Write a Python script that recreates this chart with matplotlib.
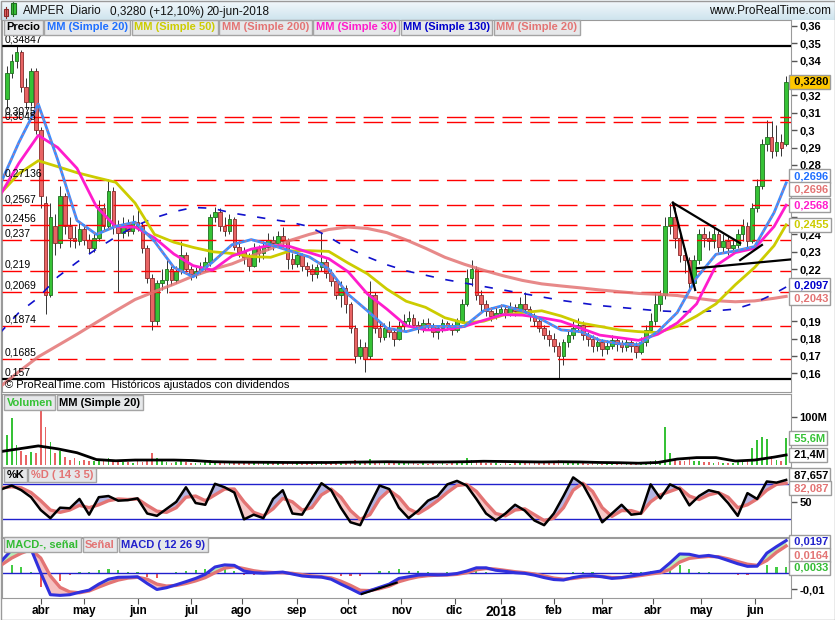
import matplotlib
matplotlib.use('Agg')
import matplotlib.pyplot as plt
import matplotlib.transforms as mtransforms
from matplotlib.patches import Rectangle
import numpy as np
import pandas as pd

plt.rcParams['font.family'] = ['Liberation Sans', 'DejaVu Sans']

# calendario bursatil (Bolsa de Madrid)
holidays = ['2017-04-14', '2017-04-17', '2017-05-01', '2017-12-25', '2017-12-26',
            '2018-01-01', '2018-03-30', '2018-04-02', '2018-05-01']
days = pd.bdate_range('2017-03-13', '2018-06-20', freq='C', holidays=holidays)
month_names = ['abr', 'may', 'jun', 'jul', 'ago', 'sep', 'oct', 'nov', 'dic',
               '2018', 'feb', 'mar', 'abr', 'may', 'jun']

# velas (una cada dos sesiones)
opens = [0.318, 0.333, 0.340, 0.345, 0.325, 0.316, 0.334, 0.300, 0.258, 0.205,
         0.245, 0.235, 0.262, 0.245, 0.238, 0.236, 0.243, 0.237, 0.232, 0.238,
         0.255, 0.245, 0.265, 0.245, 0.241, 0.246, 0.242, 0.247, 0.245, 0.232,
         0.215, 0.190, 0.212, 0.214, 0.220, 0.214, 0.219, 0.228, 0.220, 0.217,
         0.219, 0.221, 0.224, 0.250, 0.253, 0.245, 0.242, 0.249, 0.233, 0.230,
         0.227, 0.222, 0.232, 0.229, 0.233, 0.237, 0.235, 0.239, 0.236, 0.226,
         0.223, 0.228, 0.222, 0.220, 0.217, 0.221, 0.224, 0.218, 0.213, 0.205,
         0.209, 0.200, 0.186, 0.170, 0.175, 0.170, 0.205, 0.186, 0.181, 0.186,
         0.184, 0.180, 0.187, 0.190, 0.192, 0.188, 0.186, 0.189, 0.187, 0.184,
         0.186, 0.189, 0.187, 0.185, 0.190, 0.200, 0.215, 0.220, 0.205, 0.200,
         0.196, 0.193, 0.195, 0.197, 0.195, 0.198, 0.196, 0.200, 0.197, 0.193,
         0.190, 0.186, 0.182, 0.180, 0.176, 0.170, 0.178, 0.182, 0.186, 0.188,
         0.182, 0.180, 0.176, 0.178, 0.174, 0.176, 0.179, 0.177, 0.175, 0.178,
         0.176, 0.172, 0.178, 0.185, 0.190, 0.200, 0.205, 0.245, 0.250, 0.238,
         0.228, 0.225, 0.212, 0.225, 0.240, 0.238, 0.236, 0.240, 0.233, 0.236,
         0.232, 0.234, 0.240, 0.245, 0.236, 0.255, 0.268, 0.292, 0.296, 0.288,
         0.293, 0.292]
highs = [0.337, 0.344, 0.3485, 0.346, 0.330, 0.336, 0.336, 0.302, 0.262, 0.258,
         0.252, 0.268, 0.264, 0.250, 0.245, 0.247, 0.246, 0.240, 0.241, 0.260,
         0.258, 0.272, 0.267, 0.248, 0.250, 0.249, 0.251, 0.254, 0.247, 0.234,
         0.217, 0.214, 0.220, 0.225, 0.222, 0.222, 0.236, 0.230, 0.222, 0.221,
         0.224, 0.227, 0.252, 0.256, 0.255, 0.250, 0.252, 0.250, 0.236, 0.233,
         0.229, 0.235, 0.234, 0.236, 0.241, 0.239, 0.242, 0.244, 0.238, 0.229,
         0.230, 0.229, 0.224, 0.223, 0.223, 0.2415, 0.226, 0.220, 0.215, 0.213,
         0.211, 0.201, 0.188, 0.180, 0.178, 0.213, 0.207, 0.189, 0.189, 0.190,
         0.186, 0.190, 0.194, 0.196, 0.194, 0.190, 0.191, 0.192, 0.189, 0.188,
         0.191, 0.190, 0.189, 0.192, 0.203, 0.220, 0.2255, 0.222, 0.208, 0.202,
         0.198, 0.198, 0.200, 0.199, 0.201, 0.200, 0.204, 0.207, 0.199, 0.195,
         0.192, 0.188, 0.185, 0.183, 0.178, 0.180, 0.185, 0.190, 0.192, 0.190,
         0.184, 0.182, 0.181, 0.180, 0.179, 0.182, 0.181, 0.179, 0.180, 0.180,
         0.178, 0.181, 0.188, 0.195, 0.207, 0.208, 0.250, 0.258, 0.256, 0.242,
         0.232, 0.227, 0.228, 0.243, 0.244, 0.242, 0.244, 0.242, 0.240, 0.239,
         0.237, 0.243, 0.249, 0.247, 0.258, 0.272, 0.295, 0.306, 0.305, 0.303,
         0.298, 0.331]
lows = [0.312, 0.330, 0.336, 0.322, 0.312, 0.314, 0.298, 0.255, 0.194, 0.204,
        0.228, 0.232, 0.240, 0.233, 0.232, 0.234, 0.234, 0.229, 0.230, 0.236,
        0.242, 0.243, 0.240, 0.207, 0.238, 0.239, 0.240, 0.242, 0.229, 0.212,
        0.185, 0.188, 0.208, 0.206, 0.211, 0.212, 0.217, 0.217, 0.214, 0.215,
        0.217, 0.219, 0.222, 0.247, 0.242, 0.239, 0.240, 0.231, 0.227, 0.223,
        0.219, 0.221, 0.224, 0.226, 0.231, 0.231, 0.233, 0.233, 0.220, 0.220,
        0.221, 0.219, 0.216, 0.213, 0.215, 0.219, 0.215, 0.210, 0.203, 0.198,
        0.195, 0.183, 0.166, 0.168, 0.161, 0.168, 0.183, 0.178, 0.179, 0.181,
        0.176, 0.179, 0.185, 0.188, 0.186, 0.183, 0.184, 0.185, 0.181, 0.180,
        0.184, 0.185, 0.182, 0.184, 0.189, 0.199, 0.210, 0.202, 0.196, 0.193,
        0.190, 0.191, 0.193, 0.192, 0.193, 0.193, 0.194, 0.195, 0.190, 0.187,
        0.184, 0.180, 0.176, 0.172, 0.157, 0.165, 0.175, 0.180, 0.184, 0.179,
        0.176, 0.172, 0.173, 0.170, 0.171, 0.174, 0.173, 0.172, 0.173, 0.172,
        0.169, 0.171, 0.176, 0.184, 0.188, 0.196, 0.203, 0.240, 0.232, 0.224,
        0.218, 0.208, 0.210, 0.223, 0.233, 0.231, 0.232, 0.230, 0.230, 0.228,
        0.229, 0.232, 0.236, 0.233, 0.235, 0.253, 0.266, 0.288, 0.284, 0.285,
        0.285, 0.291]
closes = [0.333, 0.340, 0.345, 0.325, 0.316, 0.334, 0.300, 0.262, 0.205, 0.250,
          0.235, 0.262, 0.245, 0.238, 0.236, 0.243, 0.237, 0.232, 0.238, 0.255,
          0.245, 0.265, 0.245, 0.241, 0.246, 0.242, 0.247, 0.245, 0.232, 0.215,
          0.190, 0.212, 0.214, 0.220, 0.214, 0.219, 0.228, 0.220, 0.217, 0.219,
          0.221, 0.224, 0.250, 0.253, 0.245, 0.242, 0.249, 0.233, 0.230, 0.227,
          0.222, 0.232, 0.229, 0.233, 0.237, 0.235, 0.239, 0.236, 0.226, 0.223,
          0.228, 0.222, 0.220, 0.217, 0.221, 0.224, 0.218, 0.213, 0.205, 0.209,
          0.200, 0.186, 0.170, 0.175, 0.168, 0.205, 0.186, 0.181, 0.186, 0.184,
          0.180, 0.187, 0.190, 0.192, 0.188, 0.186, 0.189, 0.187, 0.184, 0.186,
          0.189, 0.187, 0.185, 0.190, 0.200, 0.215, 0.220, 0.205, 0.200, 0.196,
          0.193, 0.195, 0.197, 0.195, 0.198, 0.196, 0.200, 0.197, 0.193, 0.190,
          0.186, 0.182, 0.180, 0.176, 0.170, 0.178, 0.182, 0.186, 0.188, 0.182,
          0.180, 0.176, 0.178, 0.174, 0.176, 0.179, 0.177, 0.175, 0.178, 0.176,
          0.172, 0.178, 0.185, 0.190, 0.200, 0.205, 0.245, 0.250, 0.238, 0.228,
          0.225, 0.212, 0.225, 0.240, 0.238, 0.236, 0.240, 0.233, 0.236, 0.232,
          0.234, 0.240, 0.245, 0.236, 0.255, 0.268, 0.292, 0.296, 0.288, 0.293,
          0.290, 0.328]
volume = [62, 97, 42, 30, 22, 28, 25, 114, 79, 49,
          25, 30, 18, 12, 15, 10, 12, 8, 10, 14,
          9, 16, 11, 8, 6, 7, 5, 8, 7, 12,
          25, 16, 9, 7, 5, 6, 10, 6, 4, 5,
          5, 6, 12, 9, 7, 5, 6, 8, 5, 4,
          5, 6, 4, 5, 6, 4, 5, 6, 7, 4,
          4, 5, 4, 5, 4, 8, 5, 5, 7, 6,
          8, 9, 12, 7, 9, 14, 7, 5, 4, 4,
          5, 6, 4, 5, 4, 3, 4, 3, 4, 3,
          4, 3, 4, 5, 8, 15, 12, 9, 6, 5,
          4, 4, 3, 4, 3, 4, 5, 6, 4, 5,
          4, 5, 6, 7, 12, 8, 6, 5, 4, 4,
          3, 4, 3, 3, 4, 3, 3, 4, 3, 3,
          4, 5, 7, 8, 12, 10, 79, 25, 12, 10,
          8, 15, 10, 9, 6, 7, 5, 6, 5, 4,
          5, 6, 10, 8, 36, 52, 59, 55, 20, 12,
          10, 55.6]

# medias moviles (una lectura cada ocho sesiones y la ultima sesion)
ma20 = [0.268, 0.293, 0.315, 0.283, 0.248, 0.240, 0.2446, 0.247, 0.236, 0.221,
        0.2156, 0.224, 0.234, 0.237, 0.234, 0.2305, 0.227, 0.220, 0.2055, 0.196,
        0.186, 0.184, 0.187, 0.187, 0.187, 0.196, 0.199, 0.196, 0.191, 0.185,
        0.184, 0.179, 0.177, 0.1765, 0.184, 0.195, 0.215, 0.2285, 0.2305, 0.233,
        0.2525, 0.2696]
ma30 = [0.262, 0.281, 0.297, 0.290, 0.278, 0.256, 0.2444, 0.2442, 0.238, 0.2287,
        0.222, 0.2194, 0.2275, 0.2315, 0.2337, 0.233, 0.2295, 0.226, 0.2185, 0.2057,
        0.197, 0.1875, 0.185, 0.185, 0.187, 0.1905, 0.1938, 0.1935, 0.192, 0.190,
        0.186, 0.182, 0.1805, 0.179, 0.1825, 0.189, 0.200, 0.222, 0.2295, 0.232,
        0.2445, 0.2568]
ma50 = [0.263, 0.275, 0.2824, 0.279, 0.2755, 0.2727, 0.270, 0.258, 0.240, 0.2355,
        0.2325, 0.230, 0.229, 0.2272, 0.2268, 0.2305, 0.2306, 0.2302, 0.2235, 0.2173,
        0.2085, 0.2015, 0.198, 0.192, 0.189, 0.190, 0.1935, 0.195, 0.196, 0.193,
        0.189, 0.187, 0.185, 0.184, 0.1835, 0.187, 0.193, 0.200, 0.211, 0.221,
        0.2335, 0.2455]
ma130 = [0.183, 0.195, 0.2035, 0.2155, 0.224, 0.2315, 0.2385, 0.2448, 0.2495, 0.253,
         0.2555, 0.255, 0.2523, 0.2505, 0.2487, 0.247, 0.2445, 0.2385, 0.232, 0.227,
         0.2225, 0.219, 0.2165, 0.214, 0.212, 0.210, 0.208, 0.206, 0.204, 0.202,
         0.2005, 0.199, 0.198, 0.197, 0.196, 0.1955, 0.1955, 0.196, 0.197, 0.2005,
         0.2058, 0.2097]
ma200 = [0.152, 0.161, 0.1695, 0.176, 0.1825, 0.1893, 0.196, 0.2025, 0.207, 0.2113,
         0.216, 0.2198, 0.223, 0.2275, 0.2318, 0.2365, 0.240, 0.2428, 0.2442, 0.2434,
         0.241, 0.2368, 0.232, 0.2268, 0.2228, 0.2193, 0.2162, 0.2135, 0.2115, 0.2103,
         0.2092, 0.208, 0.207, 0.206, 0.2055, 0.2048, 0.2032, 0.2018, 0.2012, 0.2017,
         0.2032, 0.2043]
vol_ma = [28, 34, 40, 34, 26, 12, 9.5, 11, 11, 11,
          10, 7.6, 6.8, 6.5, 6.3, 6, 6, 6, 6.5, 7,
          7.5, 7, 7, 7, 7.5, 8.5, 8, 7.5, 7, 7.5,
          7, 6, 5.5, 4.5, 6, 13, 16, 16, 9, 11,
          17, 21.4]

# osciladores (una lectura cada cuatro sesiones)
stoch_k = [72, 78, 70, 58, 36, 22, 40, 39, 55, 28, 58, 60, 52, 53, 56, 30, 26, 38, 50, 75,
           48, 45, 81, 75, 66, 20, 28, 22, 55, 70, 30, 28, 55, 82, 70, 40, 15, 10, 45, 78,
           72, 40, 22, 35, 52, 60, 80, 86, 78, 55, 30, 18, 30, 45, 35, 18, 10, 30, 60, 92,
           80, 50, 15, 30, 45, 28, 30, 80, 56, 80, 72, 44, 60, 70, 66, 48, 26, 65, 55, 85,
           83, 87.657]
stoch_d = [74, 76, 74, 66, 52, 36, 32, 36, 44, 40, 45, 52, 55, 54, 55, 44, 34, 32, 40, 58,
           60, 52, 62, 72, 72, 50, 32, 26, 38, 56, 50, 36, 40, 62, 72, 58, 35, 20, 28, 55,
           70, 58, 38, 30, 40, 52, 66, 78, 80, 68, 48, 30, 26, 36, 38, 28, 18, 22, 40, 70,
           82, 68, 40, 25, 35, 35, 30, 50, 62, 68, 74, 60, 54, 62, 66, 58, 40, 45, 55, 70,
           80, 82.087]
macd = [0.0075, 0.014, 0.0158, 0.0145, 0.0, -0.0135, -0.0139, -0.0135, -0.012, -0.0107,
        -0.007, -0.004, -0.0028, -0.0027, -0.0025, -0.0066, -0.0103, -0.0092, -0.0074, -0.0055,
        -0.0035, -0.001, 0.0035, 0.0048, 0.0045, 0.001, 0.0, -0.0003, 0.0, 0.0004,
        -0.0008, -0.002, -0.0025, -0.0027, -0.004, -0.007, -0.0098, -0.0128, -0.011, -0.009,
        -0.007, -0.0035, -0.0025, -0.0015, -0.0012, -0.0014, -0.0012, -0.0005, 0.001, 0.003,
        0.003, 0.0015, 0.0008, 0.0, -0.0004, -0.0015, -0.003, -0.0042, -0.0045, -0.003,
        -0.002, -0.0018, -0.0025, -0.0035, -0.003, -0.002, -0.001, 0.0, 0.001, 0.006,
        0.0115, 0.0113, 0.010, 0.0106, 0.0095, 0.0075, 0.0055, 0.0039, 0.0040, 0.012,
        0.016, 0.0197]
signal = [0.005, 0.009, 0.012, 0.0142, 0.009, -0.002, -0.009, -0.0118, -0.0123, -0.0112,
          -0.0088, -0.0065, -0.0045, -0.0033, -0.0028, -0.004, -0.007, -0.0082, -0.0078, -0.0066,
          -0.005, -0.003, 0.0, 0.0028, 0.0037, 0.0025, 0.0012, 0.0004, 0.0001, 0.0,
          -0.0004, -0.0012, -0.002, -0.0025, -0.0032, -0.0052, -0.0078, -0.0108, -0.011, -0.0098,
          -0.0082, -0.0055, -0.0038, -0.0025, -0.0018, -0.0015, -0.0014, -0.001, 0.0, 0.0018,
          0.0026, 0.0022, 0.0014, 0.0006, 0.0, -0.0008, -0.002, -0.0033, -0.0040, -0.0035,
          -0.0027, -0.0022, -0.0023, -0.003, -0.003, -0.0025, -0.0017, -0.0008, 0.0, 0.002,
          0.0065, 0.0088, 0.0095, 0.0100, 0.0098, 0.0085, 0.0068, 0.0052, 0.0045, 0.0075,
          0.0125, 0.0164]

# niveles y lineas de tendencia
red_levels = [0.3075, 0.3045, 0.27136, 0.2567, 0.2456, 0.237, 0.219, 0.2069, 0.1874, 0.1685]
black_levels = [0.34847, 0.157]
trend_x = [(276.2, 304.0), (276.2, 285.4), (286.1, 326.7), (304.0, 313.0)]
trend_y = [(0.2582, 0.2349), (0.2582, 0.2080), (0.2205, 0.2258), (0.2252, 0.2339)]
macd_trend_x = (147.6, 162.1)
macd_trend_y = (-0.0131, -0.0061)

# colores
GREEN = '#36c236'
RED = '#e86464'
SALMON = '#e37474'
BLUE20 = '#3b8cff'
YELLOW = '#cccc00'
MAGENTA = '#ff1ccc'
DBLUE = '#1010cc'
FRAME = '#9a9a9a'

W, H = 835, 620
fig = plt.figure(figsize=(W / 100, H / 100), dpi=100)
renderer = fig.canvas.get_renderer()


def panel(top, bottom, left=1.5, right=791):
    ax = fig.add_axes([left / W, 1 - bottom / H, (right - left) / W, (bottom - top) / H])
    for s in ax.spines.values():
        s.set_color(FRAME)
    ax.set_xlim(-1.2, 325.0)
    ax.set_xticks([])
    ax.yaxis.tick_right()
    ax.tick_params(axis='y', direction='out', length=4, width=1, color='#555555', pad=2)
    return ax


def set_right_ticks(ax, ticks, labels):
    ax.set_yticks(ticks)
    ax.set_yticklabels(labels, fontsize=8, fontweight='bold')


def legend_row(ax, items, dy):
    x = 2
    for label, color in items:
        t = ax.annotate(label, xy=(0, 1), xycoords='axes fraction',
                        xytext=(x + 3, -dy), textcoords='offset pixels',
                        ha='left', va='center', fontsize=8, fontweight='bold', color=color,
                        bbox=dict(boxstyle='square,pad=0.22', fc='#e6e8ea', ec='#a4a4a4', lw=1),
                        zorder=30, annotation_clip=False)
        x += t.get_window_extent(renderer).width + 6.5


def side_labels(ax, items, h=13):
    # etiquetas de ultimo valor a la derecha, separadas para que no se pisen
    ys = np.array([ax.transData.transform((0, v))[1] for v, _, _, _ in items], float)
    order = np.argsort(-ys, kind='stable')
    pos = ys[order].copy()
    top, bot = ax.bbox.y1 - 4, ax.bbox.y0 + 4
    for _ in range(200):
        for a in range(len(pos) - 1):
            gap = pos[a] - pos[a + 1]
            if gap < h:
                dd = (h - gap) / 2
                pos[a] += dd
                pos[a + 1] -= dd
        pos = np.clip(pos, bot, top)
    tr = mtransforms.blended_transform_factory(ax.transAxes, ax.transData)
    for p, k in zip(pos, order):
        v, txt, color, fc = items[k]
        yd = ax.transData.inverted().transform((0, p))[1]
        ax.text(1.0, yd, ' ' + txt, transform=tr, ha='left', va='center', fontsize=8,
                fontweight='bold', color=color, clip_on=False, zorder=40,
                bbox=dict(boxstyle='square,pad=0.18', fc=fc, ec='#9c9c9c', lw=1))
    # las etiquetas del eje que quedan tapadas no se dibujan
    for lab, tv in zip(ax.get_yticklabels(), ax.get_yticks()):
        ty = ax.transData.transform((0, tv))[1]
        if np.any(np.abs(pos - ty) < h / 2 + 2):
            lab.set_visible(False)


def fmt(v, nd):
    return f'{v:.{nd}f}'.replace('.', ',')


# cabecera
ax_h = fig.add_axes([0, 1 - 20 / H, 1, 20 / H])
ax_h.set_axis_off()
grad = np.linspace(0, 1, 20).reshape(-1, 1)
ax_h.imshow(grad, aspect='auto', cmap=matplotlib.colors.LinearSegmentedColormap.from_list(
    'hdr', ['#f3f9fc', '#cfe4ee']), extent=(0, W, 20, 0))
ax_h.set_xlim(0, W)
ax_h.set_ylim(20, 0)
ax_h.add_patch(Rectangle((3.5, 9), 4.5, 7, fc='#e86464', ec='#8a2a2a', lw=0.8))
ax_h.add_patch(Rectangle((11, 3), 4.5, 11, fc='#36c236', ec='#1f6f1f', lw=0.8))
ax_h.plot([5.75, 5.75], [7, 18], color='#8a2a2a', lw=0.8)
ax_h.plot([13.25, 13.25], [1.5, 16], color='#1f6f1f', lw=0.8)
for xp, txt in [(23, 'AMPER'), (70, 'Diario'), (110, '0,3280 (+12,10%)'), (206, '20-jun-2018')]:
    ax_h.text(xp, 11.5, txt, fontsize=8.5, va='center', ha='left', color='#111111')
ax_h.text(831, 11.5, 'www.ProRealTime.com', fontsize=8.5, va='center', ha='right', color='#111111')

# panel de precios
ax_p = panel(20, 392)
ax_p.set_ylim(0.14925, 0.36341)
cx = np.arange(1, len(days), 2)
o = np.array(opens)
c = np.array(closes)
up = c >= o
ax_p.vlines(cx, lows, highs, color='#333333', lw=0.7, zorder=2)
body_lo = np.minimum(o, c)
body_h = np.maximum(np.abs(c - o), 0.0006)
ax_p.bar(cx, body_h, bottom=body_lo, width=1.5, color=np.where(up, GREEN, RED),
         edgecolor=np.where(up, '#1f6f1f', '#8a2a2a'), linewidth=0.6, zorder=3)

tr_p = mtransforms.blended_transform_factory(ax_p.transAxes, ax_p.transData)
for lv in red_levels:
    ax_p.axhline(lv, color='#ff0000', lw=1, dashes=(14, 6), zorder=4)
for lv in black_levels:
    ax_p.axhline(lv, color='black', lw=1.6, zorder=4)
for lv in red_levels + black_levels:
    ax_p.annotate(str(lv).replace('.', ','), xy=(0, lv), xycoords=tr_p, xytext=(3, 1),
                  textcoords='offset pixels', ha='left', va='bottom', fontsize=7.5, zorder=6)

g8 = np.r_[np.arange(-2, len(days) - 1, 8), len(days) - 1]
ax_p.plot(g8, ma200, color=SALMON, lw=2.2, alpha=0.85, zorder=5)
ax_p.plot(g8, ma130, color=DBLUE, lw=1.2, dashes=(5, 7), zorder=5)
ax_p.plot(g8, ma50, color=YELLOW, lw=2, zorder=5)
ax_p.plot(g8, ma30, color=MAGENTA, lw=2, zorder=5)
ax_p.plot(g8, ma20, color=BLUE20, lw=2, zorder=5)
ax_p.plot(g8, ma20, color=SALMON, lw=0.8, dashes=(2, 3), zorder=5)

for (x0, x1), (y0, y1) in zip(trend_x, trend_y):
    ax_p.plot([x0, x1], [y0, y1], color='black', lw=1.6, zorder=6)

pticks = np.round(np.arange(0.16, 0.3651, 0.01), 2)
set_right_ticks(ax_p, pticks, [f'{v:.2f}'.rstrip('0').replace('.', ',') for v in pticks])
ax_p.text(0.004, 0.018, '\u00a9 ProRealTime.com  Hist\u00f3ricos ajustados con dividendos',
          transform=ax_p.transAxes, fontsize=8, va='center', zorder=6)
legend_row(ax_p, [('Precio', 'black'), ('MM (Simple 20)', '#1f6fff'), ('MM (Simple 50)', YELLOW),
                  ('MM (Simple 200)', SALMON), ('MM (Simple 30)', MAGENTA),
                  ('MM (Simple 130)', '#0000cc'), ('MM (Simple 20)', SALMON)], 7.5)
side_labels(ax_p, [(closes[-1], fmt(closes[-1], 4), 'black', '#ffc800'),
                   (ma20[-1], fmt(ma20[-1], 4), '#1f6fff', 'white'),
                   (ma20[-1], fmt(ma20[-1], 4), SALMON, 'white'),
                   (ma30[-1], fmt(ma30[-1], 4), MAGENTA, 'white'),
                   (ma50[-1], fmt(ma50[-1], 4), YELLOW, 'white'),
                   (ma130[-1], fmt(ma130[-1], 4), '#0000cc', 'white'),
                   (ma200[-1], fmt(ma200[-1], 4), SALMON, 'white')])

# volumen
ax_v = panel(393.5, 467)
ax_v.set_ylim(-3.3, 147.6)
ax_v.bar(cx, volume, width=0.7, color=np.where(up, GREEN, RED), zorder=2)
ax_v.plot(g8, vol_ma, color='black', lw=2, zorder=3)
set_right_ticks(ax_v, [100], ['100M'])
legend_row(ax_v, [('Volumen', GREEN), ('MM (Simple 20)', 'black')], 9)
side_labels(ax_v, [(volume[-1], fmt(volume[-1], 1) + 'M', GREEN, 'white'),
                   (vol_ma[-1], fmt(vol_ma[-1], 1) + 'M', 'black', 'white')])

# estocastico
g4 = np.arange(-1, len(days), 4)
k = np.array(stoch_k)
d = np.array(stoch_d)
ax_s = panel(468, 537)
ax_s.set_ylim(-10.3, 108.1)
ax_s.fill_between(g4, k, d, where=k >= d, interpolate=True, color='#b4b4e2', lw=0, zorder=1)
ax_s.fill_between(g4, k, d, where=k < d, interpolate=True, color='#f6c8c8', lw=0, zorder=1)
ax_s.axhline(80, color='#2020cc', lw=1, zorder=2)
ax_s.axhline(20, color='#2020cc', lw=1, zorder=2)
ax_s.plot(g4, d, color=SALMON, lw=2.4, zorder=3)
ax_s.plot(g4, k, color='black', lw=1.8, zorder=4)
set_right_ticks(ax_s, [50], ['50'])
legend_row(ax_s, [('%K', 'black'), ('%D ( 14 3 5)', SALMON)], 7)
side_labels(ax_s, [(stoch_k[-1], fmt(stoch_k[-1], 3), 'black', 'white'),
                   (stoch_d[-1], fmt(stoch_d[-1], 3), SALMON, 'white')])

# MACD
m = np.array(macd)
sg = np.array(signal)
hist = m - sg
ax_m = panel(538, 598)
ax_m.set_ylim(-0.01552, 0.02129)
ax_m.bar(g4, hist, width=0.9, color=np.where(hist >= 0, '#44cc44', '#ee5555'), zorder=1)
ax_m.fill_between(g4, m, sg, where=m >= sg, interpolate=True, color='#b8ecb8', lw=0, zorder=2)
ax_m.fill_between(g4, m, sg, where=m < sg, interpolate=True, color='#f6c0c0', lw=0, zorder=2)
ax_m.axhline(0, color='#2020cc', lw=1, zorder=2)
ax_m.plot(g4, sg, color=SALMON, lw=2.4, zorder=3)
ax_m.plot(g4, m, color='#3030dd', lw=2.2, zorder=4)
ax_m.plot(macd_trend_x, macd_trend_y, color='black', lw=1.5, zorder=5)
set_right_ticks(ax_m, [-0.01, 0], ['-0,01', '0'])
legend_row(ax_m, [('MACD-, se\u00f1al', '#33bb33'), ('Se\u00f1al', SALMON),
                  ('MACD ( 12 26 9)', '#2222cc')], 6.5)
side_labels(ax_m, [(macd[-1], fmt(macd[-1], 4), '#2222cc', 'white'),
                   (signal[-1], fmt(signal[-1], 4), SALMON, 'white'),
                   (hist[-1], fmt(hist[-1], 4), '#33bb33', 'white')])

month_idx = [i for i in range(1, len(days)) if days[i].month != days[i - 1].month]
ax_m.set_xticks(month_idx)
ax_m.set_xticklabels(month_names, fontsize=8.5, fontweight='bold')
for lab in ax_m.get_xticklabels():
    if lab.get_text() == '2018':
        lab.set_fontsize(10)
ax_m.tick_params(axis='x', direction='out', length=4, color='#555555', pad=1)

fig.add_artist(Rectangle((0.5 / W, 0.5 / H), 1 - 1 / W, 1 - 1 / H, transform=fig.transFigure,
                         fill=False, ec=FRAME, lw=1))
fig.savefig('out.png', dpi=100)
